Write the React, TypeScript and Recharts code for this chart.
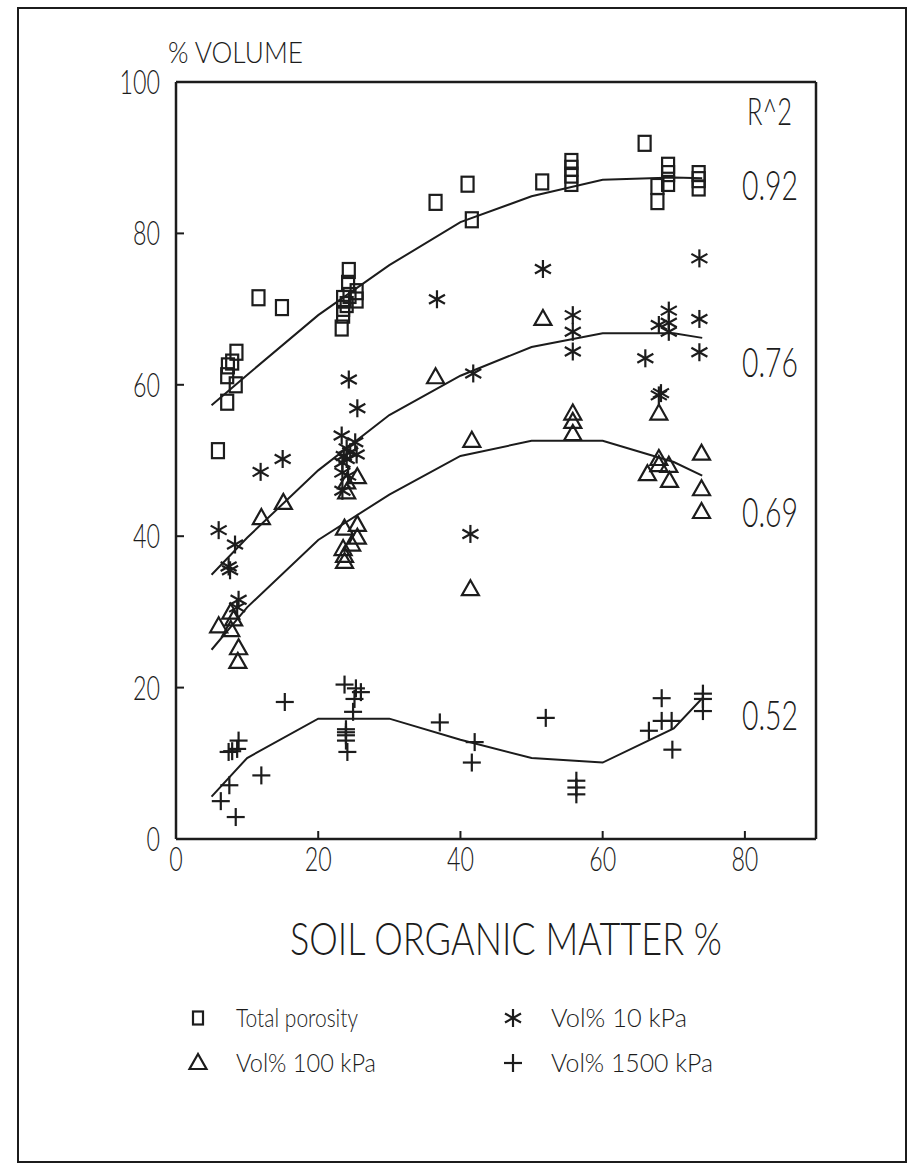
import React from 'react';
import { ComposedChart, Scatter, Line, XAxis, YAxis } from 'recharts';

const INK = '#1c1c1c';
const FONT = "Lato, 'Liberation Sans Narrow', sans-serif";

const xTicks = [0, 20, 40, 60, 80];
const yTicks = [0, 20, 40, 60, 80, 100];

// [soil organic matter %, % volume]
const totalPorosity = [
  [5.9, 51.3], [7.2, 57.7], [7.2, 61.2], [7.3, 62.5], [7.9, 63.0], [8.5, 64.3], [8.4, 60.0],
  [11.6, 71.5], [14.9, 70.2], [23.3, 67.5], [23.5, 69.2], [23.5, 70.1], [23.5, 71.4], [24.4, 71.8],
  [24.2, 73.4], [24.3, 75.1], [25.4, 72.3], [25.4, 71.2], [24.0, 70.6], [36.5, 84.1], [41.0, 86.5],
  [41.6, 81.8], [51.5, 86.8], [55.6, 89.5], [55.6, 88.6], [55.6, 87.7], [55.6, 86.6], [65.9, 91.9],
  [67.7, 86.2], [67.7, 84.2], [69.2, 89.0], [69.2, 87.9], [69.2, 86.6], [73.5, 87.9], [73.5, 87.1],
  [73.5, 86.0],
];

const vol10 = [
  [6.0, 40.8], [7.4, 36.0], [7.6, 35.5], [8.3, 38.9], [8.8, 31.6], [8.6, 30.6], [11.9, 48.5],
  [15.0, 50.2], [23.3, 53.3], [25.2, 52.4], [24.0, 51.6], [24.5, 51.1], [23.6, 50.6], [25.4, 50.8],
  [24.0, 50.2], [23.4, 49.7], [23.4, 48.4], [24.2, 48.0], [23.4, 46.0], [24.3, 60.7], [25.5, 56.9],
  [36.7, 71.3], [41.8, 61.5], [41.4, 40.3], [51.6, 75.3], [55.8, 69.2], [55.8, 67.0], [55.8, 64.4],
  [66.0, 63.5], [67.9, 67.9], [69.3, 69.8], [69.3, 68.2], [69.3, 67.0], [67.9, 58.6], [68.2, 58.9],
  [73.6, 76.7], [73.6, 68.7], [73.6, 64.3],
];

const vol100 = [
  [6.0, 28.1], [7.7, 29.9], [8.1, 29.0], [7.7, 27.6], [8.8, 25.2], [8.7, 23.4], [12.0, 42.4],
  [15.1, 44.4], [23.7, 41.0], [25.5, 41.5], [25.5, 39.8], [24.7, 38.9], [23.5, 38.3], [23.7, 37.4],
  [23.7, 36.6], [25.5, 47.8], [24.0, 47.1], [24.0, 45.8], [36.5, 61.0], [41.6, 52.6], [41.4, 33.0],
  [51.6, 68.7], [55.8, 56.2], [55.8, 55.1], [55.8, 53.5], [67.9, 56.2], [67.9, 50.2], [67.9, 49.4],
  [69.3, 49.3], [66.3, 48.2], [69.4, 47.3], [73.9, 50.9], [73.9, 46.2], [73.9, 43.2],
];

const vol1500 = [
  [6.3, 5.0], [8.4, 2.9], [7.5, 7.1], [7.4, 11.5], [7.9, 11.6], [8.6, 11.9], [8.8, 13.0], [12.0, 8.4],
  [15.3, 18.1], [23.7, 20.4], [25.3, 19.9], [26.0, 19.4], [25.1, 18.5], [24.9, 16.8], [23.9, 14.5],
  [23.9, 14.1], [23.9, 13.7], [23.9, 13.0], [24.1, 11.5], [37.1, 15.4], [42.0, 12.8], [41.6, 10.1],
  [52.0, 16.0], [56.3, 7.7], [56.3, 6.8], [56.3, 5.9], [66.5, 14.3], [68.3, 18.6], [68.3, 15.6],
  [69.7, 15.6], [69.8, 11.8], [74.1, 19.2], [74.1, 18.5], [74.1, 16.9],
];

// fitted curves
const fitX = [5, 10, 20, 30, 40, 50, 60, 70, 74];
const fitPorosity = [57.3, 61.3, 69.2, 75.8, 81.5, 84.9, 87.1, 87.4, 87.3];
const fit10 = [34.9, 39.8, 48.7, 56.0, 61.2, 65.0, 66.8, 66.8, 66.2];
const fit100 = [25.0, 30.6, 39.5, 45.5, 50.6, 52.6, 52.6, 49.8, 48.0];
const fit1500 = [5.6, 10.7, 15.9, 15.9, 13.1, 10.7, 10.1, 14.6, 18.6];

const rSquared = ['0.92', '0.76', '0.69', '0.52'];
const rSquaredY = [185, 362, 512, 715];

const toPoints = (pairs) => pairs.map(([x, y]) => ({ x, y }));
const toFit = (ys) => fitX.map((x, i) => ({ x, y: ys[i] }));

const Square = ({ cx, cy, w = 12, h = 15 }) => (
  <rect x={cx - w / 2} y={cy - h / 2} width={w} height={h} fill="none" stroke={INK} strokeWidth={2.2} />
);

const Triangle = ({ cx, cy }) => (
  <polygon
    points={`${cx},${cy - 9} ${cx - 8.5},${cy + 6} ${cx + 8.5},${cy + 6}`}
    fill="none"
    stroke={INK}
    strokeWidth={2.2}
  />
);

const Star = ({ cx, cy }) => (
  <g stroke={INK} strokeWidth={2.2}>
    <line x1={cx} y1={cy - 9} x2={cx} y2={cy + 9} />
    <line x1={cx - 8} y1={cy - 4.5} x2={cx + 8} y2={cy + 4.5} />
    <line x1={cx - 8} y1={cy + 4.5} x2={cx + 8} y2={cy - 4.5} />
  </g>
);

const Plus = ({ cx, cy }) => (
  <g stroke={INK} strokeWidth={2.2}>
    <line x1={cx - 9} y1={cy} x2={cx + 9} y2={cy} />
    <line x1={cx} y1={cy - 9} x2={cx} y2={cy + 9} />
  </g>
);

const Label = ({ x, y, size, width, anchor = 'start', children }) => (
  <text
    x={x}
    y={y}
    fontSize={size}
    fontFamily={FONT}
    fontWeight={300}
    fill={INK}
    textAnchor={anchor}
    textLength={width}
    lengthAdjust="spacingAndGlyphs"
  >
    {children}
  </text>
);

const YTick = ({ x, y, payload }) => {
  const s = String(payload.value);
  return <Label x={x} y={y + 12} size={34} width={s.length * 13.5} anchor="end">{s}</Label>;
};

const XTick = ({ x, y, payload }) => {
  const s = String(payload.value);
  return <Label x={x} y={y + 32} size={34} width={s.length * 13.5} anchor="middle">{s}</Label>;
};

const App = () => {
  return (
    <div style={{ position: 'absolute', left: 0, top: 0, width: 911, height: 1165, background: '#fff' }}>
      <ComposedChart width={911} height={1165} margin={{ top: 82, right: 95, bottom: 325, left: 175 }}>
        <XAxis
          type="number"
          dataKey="x"
          domain={[0, 90]}
          ticks={xTicks}
          interval={0}
          height={1}
          tickSize={-8}
          tickMargin={8}
          axisLine={{ stroke: INK, strokeWidth: 2.5 }}
          tickLine={{ stroke: INK, strokeWidth: 2 }}
          tick={XTick}
        />
        <YAxis
          type="number"
          dataKey="y"
          domain={[0, 100]}
          ticks={yTicks}
          interval={0}
          width={1}
          tickSize={-8}
          tickMargin={24}
          axisLine={{ stroke: INK, strokeWidth: 2.5 }}
          tickLine={{ stroke: INK, strokeWidth: 2 }}
          tick={YTick}
        />
        <Line data={toFit(fitPorosity)} dataKey="y" type="linear" stroke={INK} strokeWidth={2} dot={false} isAnimationActive={false} />
        <Line data={toFit(fit10)} dataKey="y" type="linear" stroke={INK} strokeWidth={2} dot={false} isAnimationActive={false} />
        <Line data={toFit(fit100)} dataKey="y" type="linear" stroke={INK} strokeWidth={2} dot={false} isAnimationActive={false} />
        <Line data={toFit(fit1500)} dataKey="y" type="linear" stroke={INK} strokeWidth={2} dot={false} isAnimationActive={false} />
        <Scatter data={toPoints(totalPorosity)} dataKey="y" shape={(p) => <Square cx={p.cx} cy={p.cy} />} isAnimationActive={false} />
        <Scatter data={toPoints(vol10)} dataKey="y" shape={(p) => <Star cx={p.cx} cy={p.cy} />} isAnimationActive={false} />
        <Scatter data={toPoints(vol100)} dataKey="y" shape={(p) => <Triangle cx={p.cx} cy={p.cy} />} isAnimationActive={false} />
        <Scatter data={toPoints(vol1500)} dataKey="y" shape={(p) => <Plus cx={p.cx} cy={p.cy} />} isAnimationActive={false} />
      </ComposedChart>

      <svg width={911} height={1165} style={{ position: 'absolute', left: 0, top: 0, pointerEvents: 'none' }}>
        {/* outer frame */}
        <rect x={18} y={8} width={888} height={1154} fill="none" stroke={INK} strokeWidth={2} />
        {/* top and right edges of the plot box */}
        <line x1={176} y1={82} x2={816} y2={82} stroke={INK} strokeWidth={2.5} />
        <line x1={816} y1={82} x2={816} y2={839} stroke={INK} strokeWidth={2.5} />

        <Label x={168} y={63} size={30} width={135}>% VOLUME</Label>
        <Label x={290} y={955} size={46} width={432}>SOIL ORGANIC MATTER %</Label>

        <Label x={747} y={125} size={38} width={45}>R^2</Label>
        {rSquared.map((r, i) => (
          <Label key={r} x={742} y={rSquaredY[i] + 15} size={42} width={56}>{r}</Label>
        ))}

        {/* legend */}
        <Square cx={198} cy={1018} w={10} h={13} />
        <Label x={236} y={1027} size={26} width={122}>Total porosity</Label>
        <Star cx={513} cy={1018} />
        <Label x={551} y={1027} size={26} width={136}>Vol% 10 kPa</Label>
        <Triangle cx={198} cy={1063} />
        <Label x={236} y={1072} size={26} width={140}>Vol% 100 kPa</Label>
        <Plus cx={513} cy={1063} />
        <Label x={551} y={1072} size={26} width={162}>Vol% 1500 kPa</Label>
      </svg>
    </div>
  );
};

export default App;
